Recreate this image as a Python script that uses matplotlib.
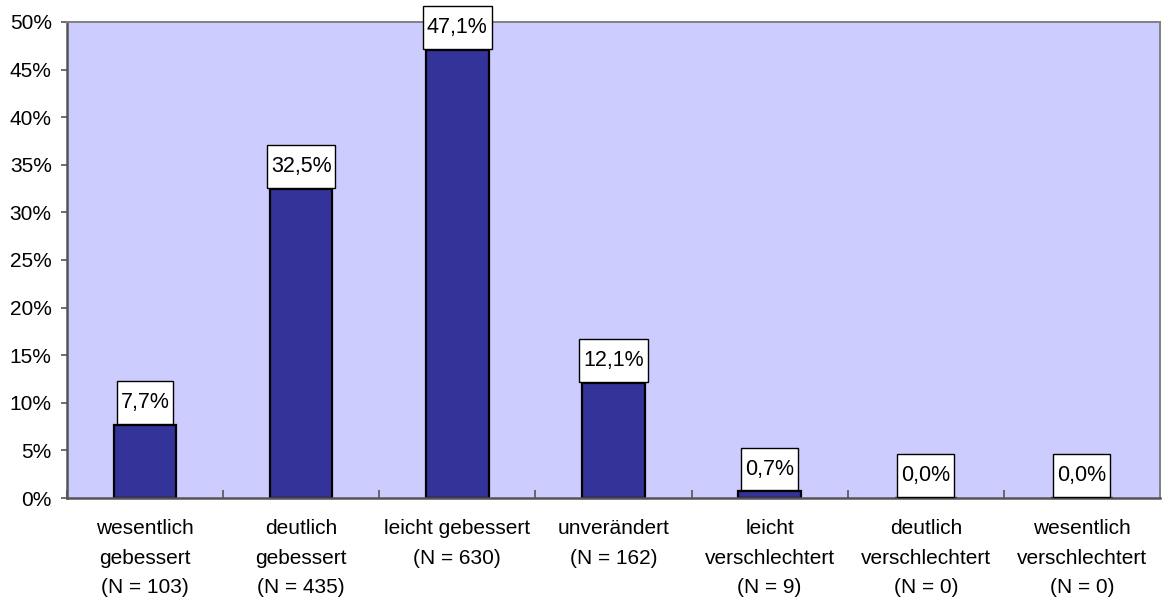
import matplotlib.pyplot as plt
import numpy as np

plt.rcParams["font.family"] = ["Liberation Sans", "DejaVu Sans"]

categories = [
    "wesentlich\ngebessert",
    "deutlich\ngebessert",
    "leicht gebessert",
    "unverändert",
    "leicht\nverschlechtert",
    "deutlich\nverschlechtert",
    "wesentlich\nverschlechtert",
]
counts = [103, 435, 630, 162, 9, 0, 0]
percent = [7.7, 32.5, 47.1, 12.1, 0.7, 0.0, 0.0]

tick_labels = [f"{c}\n(N = {n})" for c, n in zip(categories, counts)]

fig = plt.figure(figsize=(11.67, 5.99), dpi=100)
ax = fig.add_axes([0.0574, 0.1686, 0.9366, 0.7947])
ax.set_facecolor("#CCCCFF")

x = np.arange(len(percent))
ax.bar(x, percent, width=0.40, color="#333399", edgecolor="black", linewidth=1.6, zorder=2)

# value labels in white boxes sitting on top of the bars
for xi, v in zip(x, percent):
    ax.annotate(f"{v:.1f}%".replace(".", ","), xy=(xi, v), xytext=(0, 16),
                textcoords="offset points", ha="center", va="center", fontsize=15.5,
                annotation_clip=False, zorder=3,
                bbox=dict(boxstyle="square,pad=0.18", mutation_aspect=2.8,
                          facecolor="white", edgecolor="black", linewidth=1))

ax.set_xlim(-0.5, len(percent) - 0.5)
ax.set_ylim(0, 50)
ax.set_yticks(np.arange(0, 51, 5))
ax.set_yticklabels([f"{t}%" for t in range(0, 51, 5)], fontsize=15)
ax.set_xticks(x)
ax.set_xticklabels(tick_labels, fontsize=15, linespacing=1.72)
ax.set_xticks(np.arange(-0.5, len(percent)), minor=True)
ax.tick_params(axis="x", which="major", length=0, pad=15)
ax.tick_params(axis="x", which="minor", direction="in", length=6, width=1.2, color="#555555")
ax.tick_params(axis="y", direction="out", length=4, width=1.2, color="#555555", pad=7)

for side in ["left", "bottom"]:
    ax.spines[side].set_color("#555555")
    ax.spines[side].set_linewidth(1.8)
for side in ["top", "right"]:
    ax.spines[side].set_color("#808080")
    ax.spines[side].set_linewidth(1.4)

fig.savefig("out.png", dpi=100)
